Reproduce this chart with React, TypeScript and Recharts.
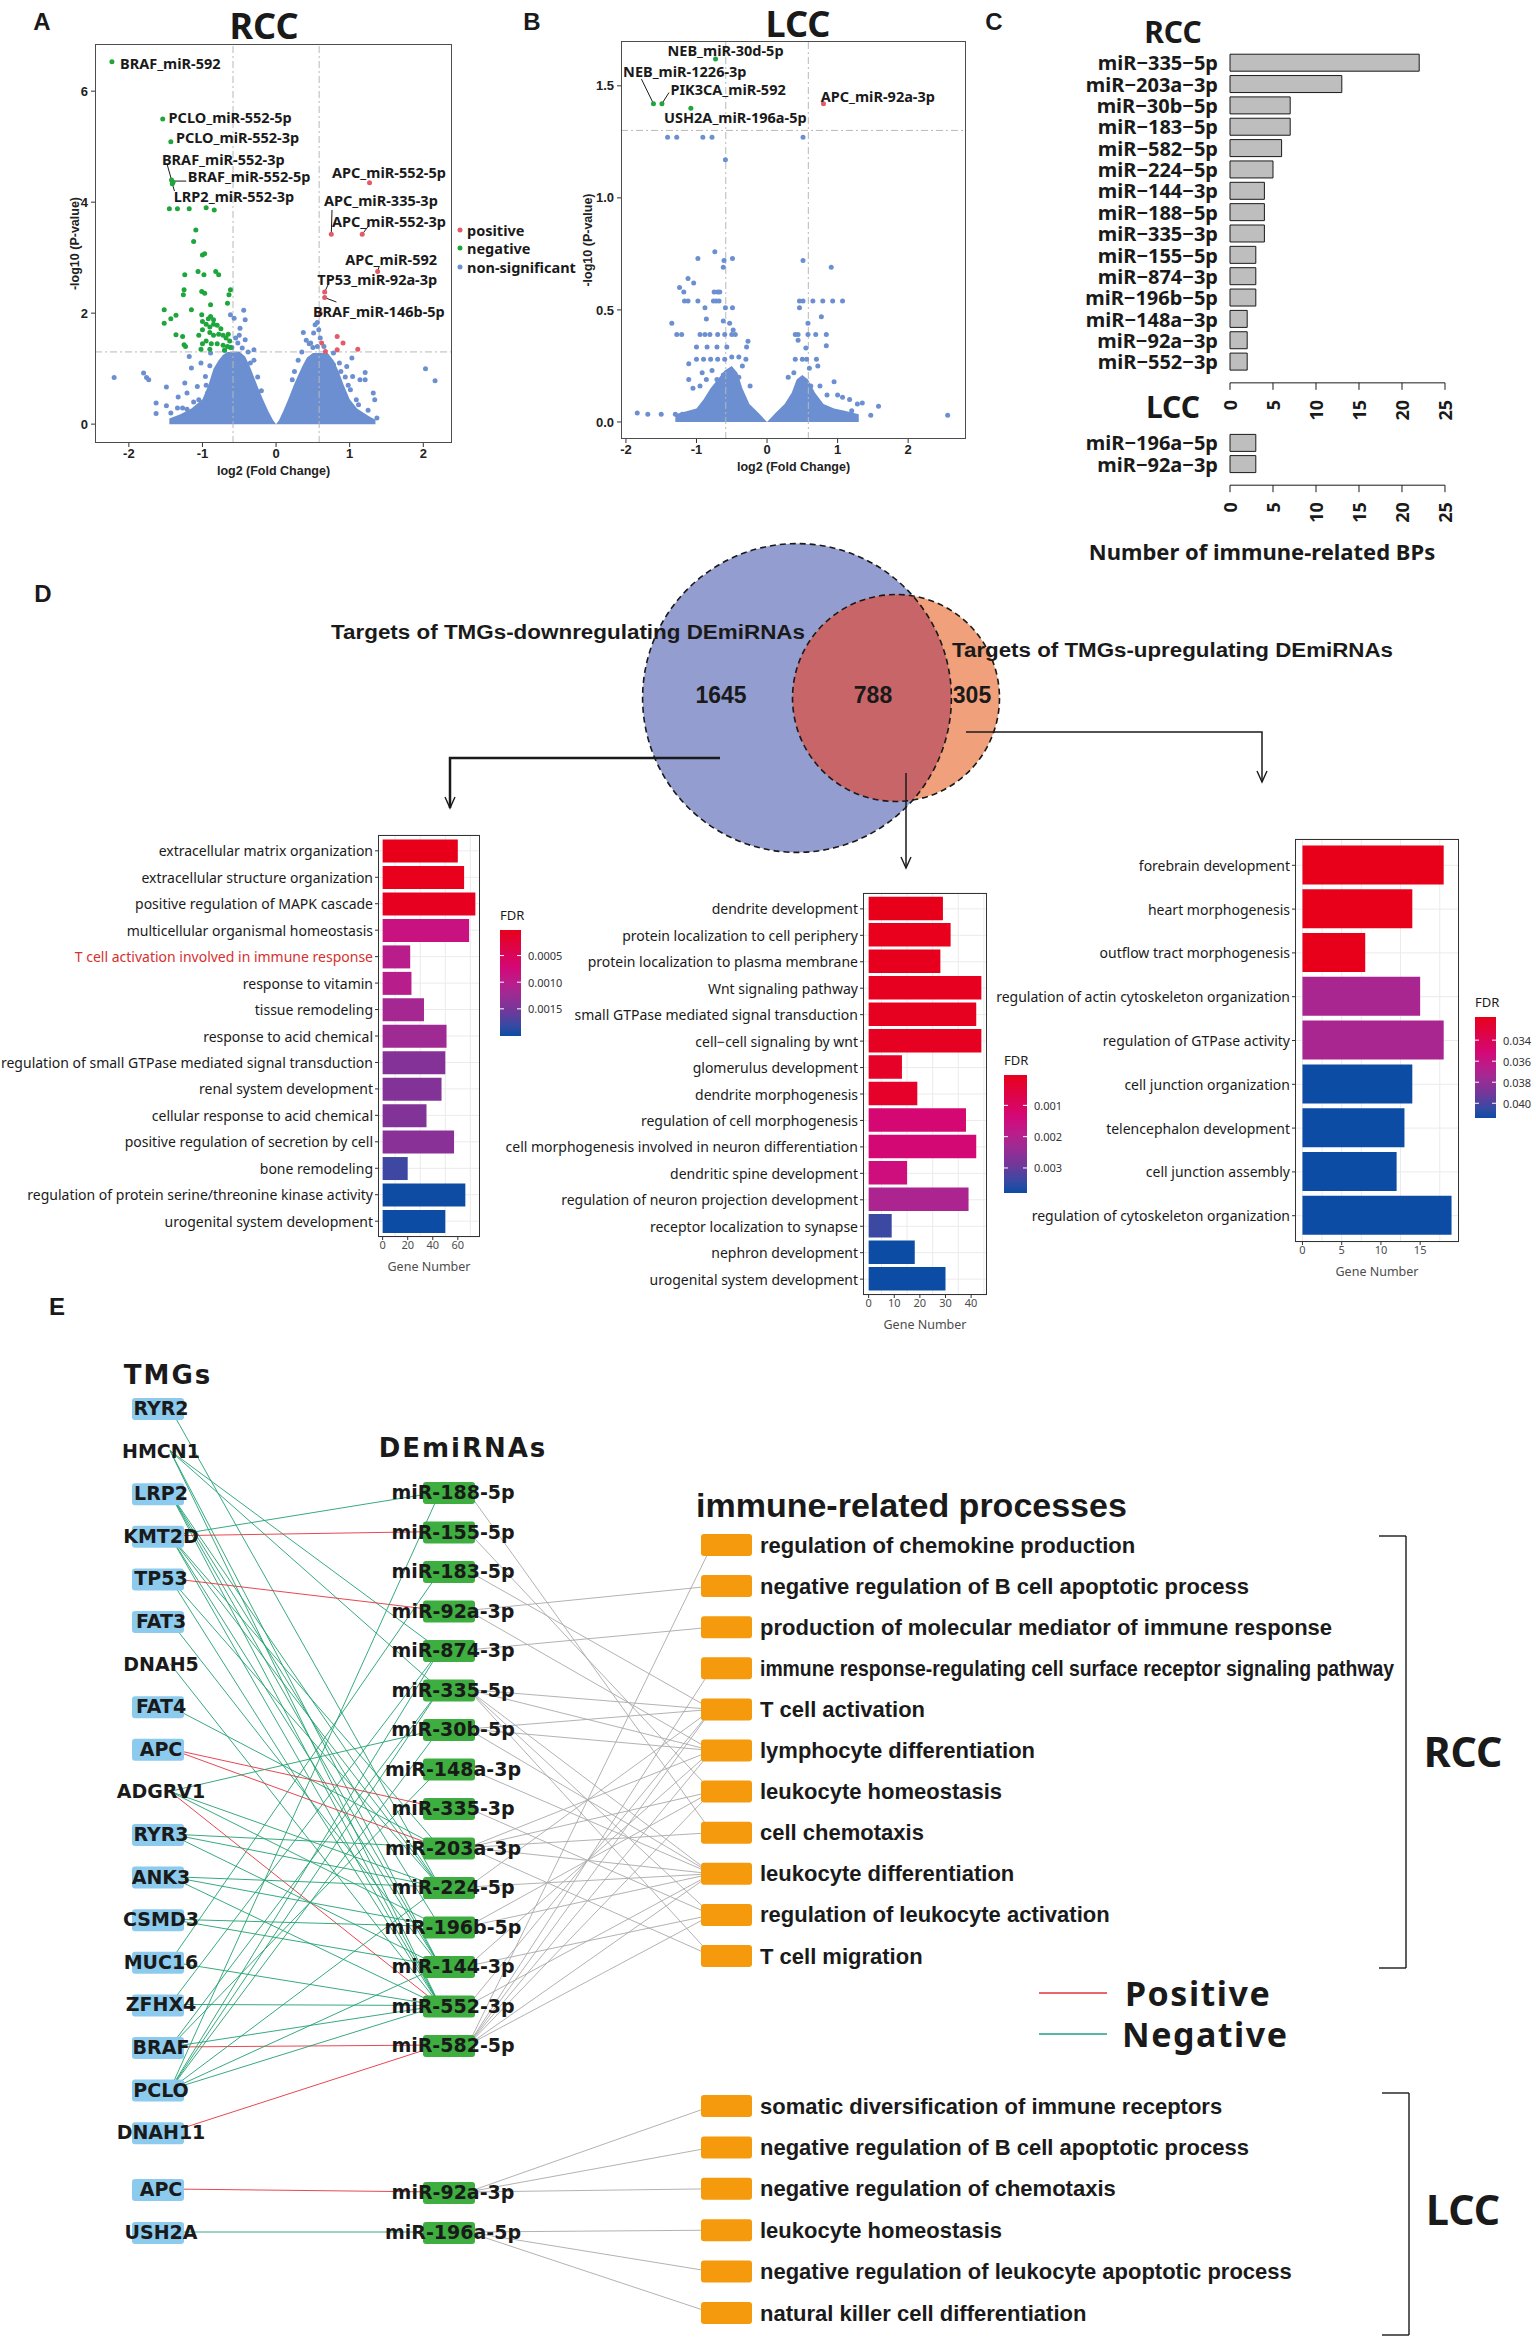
import React from 'react';
import {
  ComposedChart, ScatterChart, BarChart, Scatter, Area, Bar, Cell,
  XAxis, YAxis, CartesianGrid, ReferenceLine, Label,
} from 'recharts';

type XY = [number, number];

const SANS = "'Noto Sans', 'Open Sans', sans-serif";
const ARIAL = "'Liberation Sans', Arial, sans-serif";
const DEJAVU = "'DejaVu Sans', sans-serif";
const INK = '#1a1a1a';

const BLUE = '#6b8fd0';
const GREEN = '#1ea53c';
const RED = '#e45a68';

// ---- A: RCC volcano, [log2 FC, -log10 P] ----
const rccNonSig: XY[] = [
  [-2.2, 0.84], [-1.8, 0.92], [-1.76, 0.84], [-1.73, 0.8], [-1.49, 0.67], [-1.63, 0.38], [-1.63, 0.19],
  [-1.49, 0.33], [-1.43, 0.2], [-1.33, 0.49], [-1.34, 0.29], [-1.27, 0.29], [-1.21, 0.27], [-1.21, 0.56],
  [-1.18, 1.22], [-1.24, 0.74], [-1.15, 1.01], [-1.07, 0.68], [-1.05, 0.44], [-1.02, 1.1], [-0.96, 0.86],
  [-0.93, 0.56], [-0.89, 1.28], [-0.62, 1.97], [-0.57, 1.91], [-0.44, 2.05], [-0.42, 1.88], [-0.49, 1.73],
  [-0.42, 1.52], [-0.52, 1.46], [-0.46, 1.37], [-0.3, 1.34], [-0.55, 1.55], [-0.5, 1.6], [-0.35, 1.1],
  [-1.1, 0.15], [-0.98, 0.25], [-1.25, 0.12], [-0.9, 1.05], [-0.95, 0.7], [-1.12, 0.4], [-0.3, 1.15],
  [-0.25, 0.85], [-0.2, 0.6], [-0.38, 1.3], [-0.6, 1.38], [-0.7, 1.33],
  [0.37, 1.65], [0.41, 1.51], [0.47, 1.46], [0.53, 1.79], [0.56, 1.83], [0.58, 1.7], [0.51, 1.64], [0.56, 1.4],
  [0.3, 1.15], [0.45, 1.45], [0.65, 1.4], [0.6, 1.55], [0.71, 1.13], [0.78, 1.28], [0.78, 1.07], [0.96, 1.04],
  [1.03, 1.19], [0.83, 0.8], [0.88, 0.95], [0.98, 0.7], [0.92, 0.5], [1.01, 0.62], [1.04, 0.86], [1.14, 0.8],
  [1.21, 0.93], [1.21, 0.8], [1.09, 0.44], [1.12, 0.35], [1.25, 0.25], [1.32, 0.56], [1.34, 0.44], [1.08, 0.17],
  [1.19, 0.14], [1.37, 0.11], [2.03, 1.0], [2.16, 0.78], [0.22, 0.8], [0.25, 0.95], [0.35, 1.3], [0.5, 1.38],
  [0.86, 1.1], [0.94, 0.85], [1.02, 0.3],
];
const rccNegative: XY[] = [
  [-2.23, 6.53], [-1.54, 5.5], [-1.43, 5.09], [-1.42, 4.4], [-1.4, 4.36], [-1.41, 4.33],
  [-1.45, 3.88], [-1.34, 3.88], [-1.18, 3.88], [-0.95, 3.9], [-0.84, 3.86],
  [-1.09, 3.5], [-1.12, 3.29], [-1.0, 3.05], [-0.97, 3.07],
  [-1.24, 2.69], [-1.06, 2.75], [-0.98, 2.69], [-0.82, 2.75], [-0.78, 2.69],
  [-1.25, 2.42], [-1.26, 2.33], [-1.01, 2.39], [-0.97, 2.36], [-0.62, 2.42], [-0.64, 2.33], [-0.89, 2.15], [-0.66, 2.18],
  [-1.52, 2.06], [-1.36, 1.96], [-1.15, 2.06], [-1.01, 1.97], [-0.89, 1.94], [-1.52, 1.82], [-1.43, 1.9],
  [-1.0, 1.85], [-0.95, 1.8], [-0.9, 1.75], [-0.85, 1.8], [-0.8, 1.78], [-0.75, 1.72], [-0.9, 1.65], [-0.85, 1.6],
  [-0.78, 1.62], [-0.72, 1.6], [-0.68, 1.55], [-0.95, 1.5], [-0.88, 1.45], [-0.8, 1.45], [-0.72, 1.42], [-0.66, 1.4],
  [-1.0, 1.45], [-1.02, 1.35], [-0.9, 1.35], [-0.7, 1.33], [-0.62, 1.38], [-0.63, 1.5], [-0.65, 1.62], [-1.05, 1.6],
  [-1.0, 1.7], [-0.92, 1.9], [-0.85, 1.88], [-1.36, 1.61], [-1.27, 1.58], [-1.25, 1.43], [-1.23, 1.4],
];
const rccPositive: XY[] = [
  [1.27, 4.35], [0.75, 3.42], [1.17, 3.42], [1.38, 2.75], [0.66, 2.38], [0.66, 2.28], [0.6, 2.0],
  [0.83, 1.58], [0.91, 1.46], [0.62, 1.46], [0.83, 1.34], [1.11, 1.35], [0.67, 1.31],
];
// top edge of the tightly packed non-significant cloud
const rccCloud: XY[] = [
  [-1.45, 0.1], [-1.3, 0.18], [-1.15, 0.28], [-1.0, 0.45], [-0.92, 0.7], [-0.85, 1.0], [-0.78, 1.15], [-0.72, 1.25],
  [-0.66, 1.3], [-0.5, 1.31], [-0.42, 1.22], [-0.36, 1.05], [-0.3, 0.85], [-0.24, 0.64], [-0.17, 0.42], [-0.1, 0.22],
  [-0.04, 0.07], [0, 0], [0.04, 0.07], [0.1, 0.24], [0.17, 0.46], [0.24, 0.7], [0.3, 0.88], [0.36, 1.05],
  [0.42, 1.2], [0.5, 1.28], [0.7, 1.28], [0.78, 1.15], [0.85, 0.95], [0.92, 0.7], [1.0, 0.45],
  [1.1, 0.28], [1.25, 0.15], [1.35, 0.08],
];

// ---- B: LCC volcano ----
const lccNonSig: XY[] = [
  [-1.41, 1.27], [-1.28, 1.27], [-0.91, 1.27], [-0.78, 1.27], [0.51, 1.27], [-0.59, 1.17],
  [-0.74, 0.76], [-0.98, 0.73], [-0.61, 0.72], [-0.49, 0.73], [-0.62, 0.69], [0.51, 0.72], [0.91, 0.69],
  [-1.12, 0.64], [-1.04, 0.62], [-1.24, 0.6], [-1.18, 0.58], [-0.75, 0.58], [-0.7, 0.58], [-0.67, 0.58],
  [-1.17, 0.54], [-1.12, 0.54], [-0.98, 0.54], [-0.76, 0.54], [-0.72, 0.54], [-0.68, 0.54],
  [0.46, 0.54], [0.51, 0.54], [0.65, 0.54], [0.79, 0.54], [0.93, 0.54], [1.07, 0.54],
  [-0.88, 0.51], [-0.59, 0.51], [-0.49, 0.51], [0.46, 0.51],
  [-1.35, 0.44], [-0.86, 0.46], [-0.62, 0.45], [-0.53, 0.44], [0.58, 0.44], [0.77, 0.47],
  [-1.28, 0.39], [-1.21, 0.39], [-0.95, 0.39], [-0.88, 0.39], [-0.81, 0.39], [-0.7, 0.39], [-0.6, 0.39],
  [-0.5, 0.39], [-0.45, 0.39], [0.4, 0.39], [0.44, 0.39], [0.58, 0.39], [0.69, 0.39], [0.84, 0.39], [-0.48, 0.41],
  [-0.27, 0.36], [-1.0, 0.335], [-0.85, 0.335], [-0.71, 0.335], [-0.57, 0.335], [-0.29, 0.335], [0.44, 0.365],
  [0.55, 0.33], [0.84, 0.34],
  [-1.11, 0.26], [-1.0, 0.28], [-0.9, 0.28], [-0.8, 0.28], [-0.7, 0.28], [-0.6, 0.28], [-0.5, 0.29], [-0.4, 0.29],
  [-0.3, 0.28], [0.4, 0.28], [0.5, 0.28], [0.56, 0.28], [0.7, 0.28], [0.72, 0.25], [0.6, 0.24],
  [-1.05, 0.15], [-0.95, 0.16], [-1.11, 0.19], [-0.86, 0.19], [-0.71, 0.19], [-0.24, 0.16], [0.51, 0.19],
  [0.95, 0.18], [1.07, 0.11], [1.17, 0.1], [1.28, 0.08], [1.35, 0.085], [1.58, 0.07], [1.47, 0.03], [2.56, 0.03],
  [-1.84, 0.04], [-1.69, 0.035], [-1.5, 0.035], [-1.3, 0.035], [-1.2, 0.035], [-1.1, 0.035],
  [-0.92, 0.22], [-0.78, 0.23], [-0.62, 0.21], [-0.55, 0.18], [0.3, 0.2], [0.38, 0.22], [0.62, 0.16],
  [0.75, 0.16], [0.85, 0.12], [1.0, 0.12], [-0.4, 0.2], [-0.35, 0.25], [1.2, 0.05],
];
const lccNegative: XY[] = [[-0.73, 1.62], [-1.61, 1.42], [-1.49, 1.42], [-1.08, 1.4]];
const lccPositive: XY[] = [[0.8, 1.42]];
const lccCloud: XY[] = [
  [-1.3, 0.035], [-1.0, 0.06], [-0.9, 0.1], [-0.8, 0.15], [-0.7, 0.19], [-0.6, 0.23], [-0.5, 0.25], [-0.42, 0.22],
  [-0.35, 0.15], [-0.25, 0.08], [-0.12, 0.04], [0, 0], [0.12, 0.04], [0.25, 0.08], [0.35, 0.13], [0.42, 0.19],
  [0.5, 0.21], [0.58, 0.19], [0.68, 0.13], [0.8, 0.08], [0.95, 0.06], [1.1, 0.05], [1.3, 0.035],
];

// labelled pairs: point, where the text starts, optional leader end
type Note = { name: string; at: XY; text: XY; lead?: XY };
const rccNotes: Note[] = [
  { name: 'BRAF_miR-592', at: [-2.23, 6.53], text: [-2.12, 6.51] },
  { name: 'PCLO_miR-552-5p', at: [-1.54, 5.5], text: [-1.46, 5.53] },
  { name: 'PCLO_miR-552-3p', at: [-1.43, 5.09], text: [-1.36, 5.17] },
  { name: 'BRAF_miR-552-3p', at: [-1.42, 4.4], text: [-1.55, 4.77], lead: [-1.48, 4.68] },
  { name: 'BRAF_miR-552-5p', at: [-1.4, 4.38], text: [-1.2, 4.48], lead: [-1.22, 4.38] },
  { name: 'LRP2_miR-552-3p', at: [-1.41, 4.33], text: [-1.39, 4.11], lead: [-1.38, 4.2] },
  { name: 'APC_miR-552-5p', at: [1.27, 4.35], text: [0.76, 4.54] },
  { name: 'APC_miR-335-3p', at: [0.75, 3.42], text: [0.65, 4.03], lead: [0.76, 3.86] },
  { name: 'APC_miR-552-3p', at: [1.17, 3.42], text: [0.76, 3.66], lead: [1.25, 3.56] },
  { name: 'APC_miR-592', at: [1.38, 2.75], text: [0.94, 2.97], lead: [1.4, 2.84] },
  { name: 'TP53_miR-92a-3p', at: [0.66, 2.38], text: [0.56, 2.61], lead: [0.72, 2.55] },
  { name: 'BRAF_miR-146b-5p', at: [0.66, 2.28], text: [0.5, 2.04], lead: [0.82, 2.2] },
];
const lccNotes: Note[] = [
  { name: 'NEB_miR-30d-5p', at: [-0.73, 1.62], text: [-1.41, 1.66] },
  { name: 'NEB_miR-1226-3p', at: [-1.61, 1.42], text: [-2.04, 1.565], lead: [-1.78, 1.53] },
  { name: 'PIK3CA_miR-592', at: [-1.49, 1.42], text: [-1.37, 1.486], lead: [-1.39, 1.47] },
  { name: 'USH2A_miR-196a-5p', at: [-1.08, 1.4], text: [-1.46, 1.36] },
  { name: 'APC_miR-92a-3p', at: [0.8, 1.42], text: [0.76, 1.453] },
];

// ---- C: immune-related BPs per DEmiRNA ----
const rccMirNames = ['miR-335-5p', 'miR-203a-3p', 'miR-30b-5p', 'miR-183-5p', 'miR-582-5p', 'miR-224-5p', 'miR-144-3p',
  'miR-188-5p', 'miR-335-3p', 'miR-155-5p', 'miR-874-3p', 'miR-196b-5p', 'miR-148a-3p', 'miR-92a-3p', 'miR-552-3p'];
const rccMirBPs = [22, 13, 7, 7, 6, 5, 4, 4, 4, 3, 3, 3, 2, 2, 2];
const lccMirNames = ['miR-196a-5p', 'miR-92a-3p'];
const lccMirBPs = [3, 3];

// ---- D: Venn + GO enrichment ----
const vennCounts = [1645, 788, 305]; // down only, shared, up only

const goDownTerms = ['extracellular matrix organization', 'extracellular structure organization',
  'positive regulation of MAPK cascade', 'multicellular organismal homeostasis',
  'T cell activation involved in immune response', 'response to vitamin', 'tissue remodeling',
  'response to acid chemical', 'regulation of small GTPase mediated signal transduction', 'renal system development',
  'cellular response to acid chemical', 'positive regulation of secretion by cell', 'bone remodeling',
  'regulation of protein serine/threonine kinase activity', 'urogenital system development'];
const goDownGenes = [60, 65, 74, 69, 22, 23, 33, 51, 50, 47, 35, 57, 20, 66, 50];
const goDownFdr = [0.00002, 0.00003, 0.00006, 0.00085, 0.001, 0.00102, 0.00117, 0.00121, 0.00141, 0.00142,
  0.00143, 0.00138, 0.00178, 0.002, 0.00201];

const goBothTerms = ['dendrite development', 'protein localization to cell periphery',
  'protein localization to plasma membrane', 'Wnt signaling pathway', 'small GTPase mediated signal transduction',
  'cell\u2212cell signaling by wnt', 'glomerulus development', 'dendrite morphogenesis',
  'regulation of cell morphogenesis', 'cell morphogenesis involved in neuron differentiation',
  'dendritic spine development', 'regulation of neuron projection development', 'receptor localization to synapse',
  'nephron development', 'urogenital system development'];
const goBothGenes = [29, 32, 28, 44, 42, 44, 13, 19, 38, 42, 15, 39, 9, 18, 30];
const goBothFdr = [0.00003, 0.00005, 0.00008, 0.0001, 0.00012, 0.00015, 0.0002, 0.00025, 0.0013, 0.00132,
  0.0015, 0.0021, 0.0034, 0.0038, 0.0038];

const goUpTerms = ['forebrain development', 'heart morphogenesis', 'outflow tract morphogenesis',
  'regulation of actin cytoskeleton organization', 'regulation of GTPase activity', 'cell junction organization',
  'telencephalon development', 'cell junction assembly', 'regulation of cytoskeleton organization'];
const goUpGenes = [18, 14, 8, 15, 18, 14, 13, 12, 19];
const goUpFdr = [0.0318, 0.0318, 0.0318, 0.0372, 0.0372, 0.0414, 0.0414, 0.0414, 0.0414];

const goHighlight = ['T cell activation involved in immune response'];

// ---- E: TMG - DEmiRNA - immune process network ----
const tmgRcc = ['RYR2', 'HMCN1', 'LRP2', 'KMT2D', 'TP53', 'FAT3', 'DNAH5', 'FAT4', 'APC', 'ADGRV1', 'RYR3',
  'ANK3', 'CSMD3', 'MUC16', 'ZFHX4', 'BRAF', 'PCLO', 'DNAH11'];
const tmgLcc = ['APC', 'USH2A'];
const tmgUnboxed = ['HMCN1', 'DNAH5', 'ADGRV1'];
const mirRcc = ['miR-188-5p', 'miR-155-5p', 'miR-183-5p', 'miR-92a-3p', 'miR-874-3p', 'miR-335-5p', 'miR-30b-5p',
  'miR-148a-3p', 'miR-335-3p', 'miR-203a-3p', 'miR-224-5p', 'miR-196b-5p', 'miR-144-3p', 'miR-552-3p', 'miR-582-5p'];
const mirLcc = ['miR-92a-3p', 'miR-196a-5p'];
const procRcc = ['regulation of chemokine production', 'negative regulation of B cell apoptotic process',
  'production of molecular mediator of immune response',
  'immune response-regulating cell surface receptor signaling pathway', 'T cell activation',
  'lymphocyte differentiation', 'leukocyte homeostasis', 'cell chemotaxis', 'leukocyte differentiation',
  'regulation of leukocyte activation', 'T cell migration'];
const procLcc = ['somatic diversification of immune receptors', 'negative regulation of B cell apoptotic process',
  'negative regulation of chemotaxis', 'leukocyte homeostasis', 'negative regulation of leukocyte apoptotic process',
  'natural killer cell differentiation'];

const tmgMirRcc: [string, string, 'pos' | 'neg'][] = [
  ['RYR2', 'miR-224-5p', 'neg'], ['HMCN1', 'miR-874-3p', 'neg'], ['HMCN1', 'miR-335-5p', 'neg'],
  ['HMCN1', 'miR-552-3p', 'neg'], ['HMCN1', 'miR-144-3p', 'neg'], ['LRP2', 'miR-224-5p', 'neg'],
  ['LRP2', 'miR-196b-5p', 'neg'], ['LRP2', 'miR-144-3p', 'neg'], ['LRP2', 'miR-552-3p', 'neg'],
  ['KMT2D', 'miR-188-5p', 'neg'], ['KMT2D', 'miR-155-5p', 'pos'], ['KMT2D', 'miR-203a-3p', 'neg'],
  ['KMT2D', 'miR-224-5p', 'neg'], ['KMT2D', 'miR-144-3p', 'neg'], ['KMT2D', 'miR-552-3p', 'neg'],
  ['TP53', 'miR-92a-3p', 'pos'], ['TP53', 'miR-224-5p', 'neg'], ['TP53', 'miR-552-3p', 'neg'],
  ['FAT3', 'miR-144-3p', 'neg'], ['DNAH5', 'miR-552-3p', 'neg'], ['FAT4', 'miR-203a-3p', 'neg'],
  ['APC', 'miR-335-3p', 'pos'], ['APC', 'miR-203a-3p', 'pos'], ['ADGRV1', 'miR-30b-5p', 'neg'],
  ['ADGRV1', 'miR-224-5p', 'neg'], ['ADGRV1', 'miR-196b-5p', 'neg'], ['ADGRV1', 'miR-552-3p', 'pos'],
  ['RYR3', 'miR-203a-3p', 'neg'], ['RYR3', 'miR-224-5p', 'neg'], ['RYR3', 'miR-144-3p', 'neg'],
  ['ANK3', 'miR-224-5p', 'neg'], ['ANK3', 'miR-196b-5p', 'neg'], ['ANK3', 'miR-552-3p', 'neg'],
  ['CSMD3', 'miR-196b-5p', 'neg'], ['CSMD3', 'miR-144-3p', 'neg'], ['MUC16', 'miR-183-5p', 'neg'],
  ['MUC16', 'miR-552-3p', 'neg'], ['ZFHX4', 'miR-874-3p', 'neg'], ['ZFHX4', 'miR-552-3p', 'neg'],
  ['BRAF', 'miR-148a-3p', 'neg'], ['BRAF', 'miR-335-5p', 'neg'], ['BRAF', 'miR-552-3p', 'neg'],
  ['BRAF', 'miR-582-5p', 'pos'], ['PCLO', 'miR-188-5p', 'neg'], ['PCLO', 'miR-874-3p', 'neg'],
  ['PCLO', 'miR-335-5p', 'neg'], ['PCLO', 'miR-30b-5p', 'neg'], ['PCLO', 'miR-224-5p', 'neg'],
  ['PCLO', 'miR-144-3p', 'neg'], ['PCLO', 'miR-552-3p', 'neg'], ['DNAH11', 'miR-582-5p', 'pos'],
];
const tmgMirLcc: [string, string, 'pos' | 'neg'][] = [['APC', 'miR-92a-3p', 'pos'], ['USH2A', 'miR-196a-5p', 'neg']];
const mirProcRcc: [string, string][] = [
  ['miR-188-5p', 'cell chemotaxis'], ['miR-155-5p', 'leukocyte homeostasis'], ['miR-183-5p', 'T cell activation'],
  ['miR-92a-3p', 'negative regulation of B cell apoptotic process'], ['miR-92a-3p', 'lymphocyte differentiation'],
  ['miR-874-3p', 'production of molecular mediator of immune response'], ['miR-335-5p', 'T cell activation'],
  ['miR-335-5p', 'lymphocyte differentiation'], ['miR-335-5p', 'leukocyte differentiation'],
  ['miR-335-5p', 'regulation of leukocyte activation'], ['miR-335-5p', 'T cell migration'],
  ['miR-30b-5p', 'T cell activation'], ['miR-30b-5p', 'lymphocyte differentiation'],
  ['miR-30b-5p', 'leukocyte differentiation'], ['miR-148a-3p', 'leukocyte differentiation'],
  ['miR-335-3p', 'regulation of leukocyte activation'], ['miR-203a-3p', 'lymphocyte differentiation'],
  ['miR-203a-3p', 'leukocyte homeostasis'], ['miR-203a-3p', 'cell chemotaxis'],
  ['miR-203a-3p', 'leukocyte differentiation'], ['miR-203a-3p', 'T cell migration'],
  ['miR-224-5p', 'T cell activation'], ['miR-224-5p', 'leukocyte differentiation'],
  ['miR-196b-5p', 'leukocyte homeostasis'], ['miR-196b-5p', 'leukocyte differentiation'],
  ['miR-144-3p', 'lymphocyte differentiation'], ['miR-144-3p', 'regulation of leukocyte activation'],
  ['miR-552-3p', 'T cell activation'], ['miR-552-3p', 'leukocyte differentiation'],
  ['miR-582-5p', 'regulation of chemokine production'],
  ['miR-582-5p', 'immune response-regulating cell surface receptor signaling pathway'],
  ['miR-582-5p', 'T cell activation'], ['miR-582-5p', 'lymphocyte differentiation'],
  ['miR-582-5p', 'leukocyte homeostasis'], ['miR-582-5p', 'leukocyte differentiation'],
  ['miR-582-5p', 'regulation of leukocyte activation'],
];
const mirProcLcc: [string, string][] = [
  ['miR-92a-3p', 'somatic diversification of immune receptors'],
  ['miR-92a-3p', 'negative regulation of B cell apoptotic process'],
  ['miR-92a-3p', 'negative regulation of chemotaxis'],
  ['miR-196a-5p', 'leukocyte homeostasis'],
  ['miR-196a-5p', 'negative regulation of leukocyte apoptotic process'],
  ['miR-196a-5p', 'natural killer cell differentiation'],
];

// ---------- helpers ----------
const xy = (a: XY[]) => a.map(([x, y]) => ({ x, y }));
const dot = (fill: string) => (p: any) => <circle cx={p.cx} cy={p.cy} r={2.5} fill={fill} />;

const FDR_STOPS: [number, number[]][] = [
  [0, [232, 0, 27]], [0.35, [212, 8, 118]], [0.5, [184, 30, 140]], [0.6, [160, 42, 147]],
  [0.75, [118, 54, 153]], [0.9, [56, 74, 163]], [1, [12, 76, 164]],
];
function fdrColor(t: number) {
  const v = Math.max(0, Math.min(1, t));
  for (let i = 1; i < FDR_STOPS.length; i++) {
    const [t1, c1] = FDR_STOPS[i];
    if (v <= t1) {
      const [t0, c0] = FDR_STOPS[i - 1];
      const f = (v - t0) / (t1 - t0);
      return `rgb(${c0.map((c, k) => Math.round(c + (c1[k] - c) * f)).join(',')})`;
    }
  }
  return 'rgb(12,76,164)';
}

function Frame({ l, t, r, b, color = '#4d4d4d', w = 1.3 }: any) {
  return (
    <div style={{ position: 'absolute', left: l, top: t, width: r - l, height: b - t,
      border: `${w}px solid ${color}`, boxSizing: 'border-box', pointerEvents: 'none' }} />
  );
}

const axisTick = { fontSize: 13, fontWeight: 700, fill: '#222', fontFamily: ARIAL };

function Volcano({ left, width, height, margin, yWidth, xDomain, yDomain, yTicks, yDigits,
  nonSig, neg, pos, cloud, notes }: any) {
  const fcCut = Math.log2(1.5);
  const pCut = -Math.log10(0.05);
  const guide = { stroke: '#b8b8b8', strokeWidth: 1, strokeDasharray: '7 3 2 3' };
  const xH = 32;
  const plot = { l: left + margin.left + yWidth, t: margin.top, r: left + width - margin.right, b: height - margin.bottom - xH };
  const noteShape = (p: any) => (
    <text x={p.cx} y={p.cy} dominantBaseline="central" fontSize={14.5} fontWeight={700} fontFamily={SANS} fill={INK}>
      {p.payload.name}
    </text>
  );
  return (
    <>
      <div style={{ position: 'absolute', left, top: 0 }}>
        <ComposedChart width={width} height={height} margin={margin}>
          <XAxis type="number" dataKey="x" domain={xDomain} ticks={[-2, -1, 0, 1, 2]} allowDataOverflow
            axisLine={false} tickSize={4} tickMargin={2} tickLine={{ stroke: '#333' }} tick={axisTick} height={xH}>
            <Label value="log2 (Fold Change)" position="insideBottom" offset={0}
              fontSize={12.5} fontWeight={700} fontFamily={ARIAL} fill="#222" />
          </XAxis>
          <YAxis type="number" dataKey="y" domain={yDomain} ticks={yTicks} allowDataOverflow
            tickFormatter={(v: number) => v.toFixed(yDigits)}
            axisLine={false} tickSize={4} tickMargin={3} tickLine={{ stroke: '#333' }} tick={axisTick} width={yWidth}>
            <Label value="-log10 (P-value)" angle={-90} position="center"
              fontSize={12.5} fontWeight={700} fontFamily={ARIAL} fill="#222" />
          </YAxis>
          <ReferenceLine x={-fcCut} {...guide} />
          <ReferenceLine x={fcCut} {...guide} />
          <ReferenceLine y={pCut} {...guide} />
          <Area data={xy(cloud)} dataKey="y" type="linear" stroke="none" fill={BLUE} fillOpacity={1}
            baseValue={0} isAnimationActive={false} />
          <Scatter data={xy(nonSig)} shape={dot(BLUE)} isAnimationActive={false} />
          <Scatter data={xy(neg)} shape={dot(GREEN)} isAnimationActive={false} />
          <Scatter data={xy(pos)} shape={dot(RED)} isAnimationActive={false} />
          {notes.filter((n: Note) => n.lead).map((n: Note, i: number) => (
            <ReferenceLine key={i} segment={[{ x: n.at[0], y: n.at[1] }, { x: n.lead![0], y: n.lead![1] }]}
              stroke={INK} strokeWidth={1} />
          ))}
          <Scatter data={notes.map((n: Note) => ({ x: n.text[0], y: n.text[1], name: n.name }))}
            shape={noteShape} isAnimationActive={false} />
        </ComposedChart>
      </div>
      <Frame {...plot} />
    </>
  );
}

function MirBars({ top, names, values, marginTop, band }: any) {
  const data = names.map((name: string, i: number) => ({ name, value: values[i] }));
  const gap = 10.4, axisH = 44;
  const height = marginTop + names.length * band + gap + axisH;
  const rotTick = (p: any) => (
    <text transform={`translate(${p.x},${p.y}) rotate(-90)`} textAnchor="end" dominantBaseline="central"
      fontSize={18} fontWeight={700} fontFamily={SANS} fill={INK}>{p.payload.value}</text>
  );
  const mirTick = (p: any) => (
    <text x={p.x} y={p.y} textAnchor="end" dominantBaseline="central" fontSize={20} fontWeight={700}
      fontFamily={SANS} fill={INK}>{String(p.payload.value).replace(/-/g, '\u2212')}</text>
  );
  return (
    <div style={{ position: 'absolute', left: 1040, top }}>
      <BarChart layout="vertical" width={420} height={height} data={data}
        margin={{ top: marginTop, right: 15, bottom: 0, left: 0 }} barSize={17}>
        <XAxis type="number" domain={[0, 25]} ticks={[0, 5, 10, 15, 20, 25]} height={axisH} stroke={INK}
          tickSize={7} tickMargin={10} tick={rotTick} />
        <YAxis type="category" dataKey="name" width={190} axisLine={false} tickLine={false} tickSize={0}
          tickMargin={12} interval={0} padding={{ top: 0, bottom: gap }} tick={mirTick} />
        <Bar dataKey="value" fill="#bebebe" stroke={INK} strokeWidth={1} isAnimationActive={false} />
      </BarChart>
    </div>
  );
}

function GoPanel({ boxLeft, plot, terms, genes, fdr, domain, majors, grid, barSize, pad, highlight = [] }: any) {
  const lo = Math.min(...fdr), hi = Math.max(...fdr);
  const data = terms.map((term: string, i: number) => ({ term, genes: genes[i], fdr: fdr[i] }));
  const top = plot.t - 10;
  const axisH = 42;
  const termTick = (p: any) => (
    <text x={p.x} y={p.y} textAnchor="end" dominantBaseline="central" fontSize={14} fontFamily={SANS}
      fill={highlight.includes(p.payload.value) ? '#d7302f' : INK}>{p.payload.value}</text>
  );
  return (
    <>
      <div style={{ position: 'absolute', left: boxLeft, top }}>
        <BarChart layout="vertical" width={plot.r - boxLeft + 10} height={plot.b - top + axisH} data={data}
          margin={{ top: 10, right: 10, bottom: 0, left: 0 }} barSize={barSize}>
          <CartesianGrid stroke="#ebebeb" verticalValues={grid} />
          <XAxis type="number" domain={domain} ticks={majors} allowDataOverflow axisLine={false} tickSize={3}
            tickMargin={1} tickLine={{ stroke: '#333' }} tick={{ fontSize: 11, fill: '#4d4d4d', fontFamily: SANS }}
            height={axisH}>
            <Label value="Gene Number" position="insideBottom" offset={8} fontSize={12.5} fill="#4d4d4d"
              fontFamily={SANS} />
          </XAxis>
          <YAxis type="category" dataKey="term" width={plot.l - boxLeft} axisLine={false} tickSize={3}
            tickMargin={2} tickLine={{ stroke: '#333' }} interval={0} padding={{ top: pad, bottom: pad }}
            tick={termTick} />
          <Bar dataKey="genes" isAnimationActive={false}>
            {data.map((d: any, i: number) => <Cell key={i} fill={fdrColor((d.fdr - lo) / (hi - lo))} />)}
          </Bar>
        </BarChart>
      </div>
      <Frame l={plot.l} t={plot.t} r={plot.r} b={plot.b} color="#333" w={1} />
    </>
  );
}

const VENN = { left: 600, top: 520, w: 460, h: 360, downCx: 197, cy: 178, gap: 99, k: 3.13 };

function Venn() {
  const [downOnly, shared, upOnly] = vennCounts;
  const R = VENN.k * Math.sqrt(downOnly + shared);
  const r = VENN.k * Math.sqrt(shared + upOnly);
  const d = VENN.gap;
  const down = [{ x: VENN.downCx, y: VENN.cy }];
  const up = [{ x: VENN.downCx + d, y: VENN.cy }];
  const outline = { fill: 'none', stroke: INK, strokeWidth: 1.6, strokeDasharray: '6 4' };
  const lens = (p: any) => {
    const bx = p.cx - d;
    const xi = (d * d + R * R - r * r) / (2 * d);
    const yi = Math.sqrt(R * R - xi * xi);
    const p1 = `${bx + xi},${p.cy - yi}`;
    const p2 = `${bx + xi},${p.cy + yi}`;
    return <path d={`M${p1} A${r},${r} 0 1 0 ${p2} A${R},${R} 0 0 0 ${p1} Z`} fill="#c86568" />;
  };
  return (
    <div style={{ position: 'absolute', left: VENN.left, top: VENN.top }}>
      <ScatterChart width={VENN.w} height={VENN.h} margin={{ top: 0, right: 0, bottom: 0, left: 0 }}>
        <XAxis type="number" dataKey="x" domain={[0, VENN.w]} hide />
        <YAxis type="number" dataKey="y" domain={[0, VENN.h]} reversed hide />
        <Scatter data={down} shape={(p: any) => <circle cx={p.cx} cy={p.cy} r={R} fill="#939dcf" />} isAnimationActive={false} />
        <Scatter data={up} shape={(p: any) => <circle cx={p.cx} cy={p.cy} r={r} fill="#f0a07a" />} isAnimationActive={false} />
        <Scatter data={up} shape={lens} isAnimationActive={false} />
        <Scatter data={down} shape={(p: any) => <circle cx={p.cx} cy={p.cy} r={R} {...outline} />} isAnimationActive={false} />
        <Scatter data={up} shape={(p: any) => <circle cx={p.cx} cy={p.cy} r={r} {...outline} />} isAnimationActive={false} />
      </ScatterChart>
    </div>
  );
}

const NET = {
  top: 1340, h: 997,
  tmgBox: 158, tmgText: 161, tmgEdge: 170,
  mirBox: 449, mirText: 453, mirIn: 440, mirOut: 468,
  procBox: 726.5, procText: 760, procIn: 712,
  tmgRcc0: 1408, tmgStep: 42.6, tmgLcc0: 2189, tmgLccStep: 43,
  mirRcc0: 1492, mirStep: 39.5, mirLcc0: 2192, mirLccStep: 40,
  procRcc0: 1545, procStep: 41.1, procLcc0: 2106, procLccStep: 41.4,
  procMaxW: 634,
};
const EDGE_POS = '#e5323f';
const EDGE_NEG = '#20a070';
const EDGE_GREY = '#a9a9a9';

function Network() {
  const N = NET;
  const nodes = (names: string[], group: string, x: number, y0: number, step: number) =>
    names.map((name, i) => ({ name, group, x, y: y0 + i * step }));
  const tmgNodes = [...nodes(tmgRcc, 'rcc', N.tmgBox, N.tmgRcc0, N.tmgStep), ...nodes(tmgLcc, 'lcc', N.tmgBox, N.tmgLcc0, N.tmgLccStep)];
  const mirNodes = [...nodes(mirRcc, 'rcc', N.mirBox, N.mirRcc0, N.mirStep), ...nodes(mirLcc, 'lcc', N.mirBox, N.mirLcc0, N.mirLccStep)];
  const procNodes = [...nodes(procRcc, 'rcc', N.procBox, N.procRcc0, N.procStep), ...nodes(procLcc, 'lcc', N.procBox, N.procLcc0, N.procLccStep)];
  const find = (list: any[], group: string, name: string) => list.find((n) => n.group === group && n.name === name);

  const segs: any[] = [];
  const addTm = (edges: [string, string, string][], group: string) => edges.forEach(([g, m, s]) => {
    const a = find(tmgNodes, group, g), b = find(mirNodes, group, m);
    if (a && b) segs.push({ a: { x: N.tmgEdge, y: a.y }, b: { x: N.mirIn, y: b.y }, color: s === 'pos' ? EDGE_POS : EDGE_NEG });
  });
  const addMp = (edges: [string, string][], group: string) => edges.forEach(([m, pr]) => {
    const a = find(mirNodes, group, m), b = find(procNodes, group, pr);
    if (a && b) segs.push({ a: { x: N.mirOut, y: a.y }, b: { x: N.procIn, y: b.y }, color: EDGE_GREY });
  });
  addTm(tmgMirRcc, 'rcc'); addTm(tmgMirLcc, 'lcc');
  addMp(mirProcRcc, 'rcc'); addMp(mirProcLcc, 'lcc');

  const tmgShape = (p: any) => (
    <g>
      {!tmgUnboxed.includes(p.payload.name) && (
        <rect x={p.cx - 26} y={p.cy - 10} width={52} height={22} rx={3} fill="#8ccbee" />
      )}
      <text x={p.cx + (N.tmgText - N.tmgBox)} y={p.cy} textAnchor="middle" dominantBaseline="central"
        fontFamily={DEJAVU} fontWeight={700} fontSize={19} fill={INK}>{p.payload.name}</text>
    </g>
  );
  const mirShape = (p: any) => (
    <g>
      <rect x={p.cx - 26} y={p.cy - 10} width={52} height={22} rx={3} fill="#3dae3f" />
      <text x={p.cx + (N.mirText - N.mirBox)} y={p.cy} textAnchor="middle" dominantBaseline="central"
        fontFamily={DEJAVU} fontWeight={700} fontSize={19} fill={INK}>{p.payload.name}</text>
    </g>
  );
  const procShape = (p: any) => {
    const long = p.payload.name.length > 60;
    return (
      <g>
        <rect x={p.cx - 25.5} y={p.cy - 11} width={51} height={22} rx={3} fill="#f49a0c" />
        <text x={p.cx + (N.procText - N.procBox)} y={p.cy} dominantBaseline="central" fontFamily={ARIAL}
          fontWeight={700} fontSize={22} fill={INK} textLength={long ? N.procMaxW : undefined}
          lengthAdjust={long ? 'spacingAndGlyphs' : undefined}>{p.payload.name}</text>
      </g>
    );
  };
  const line = (x1: number, y1: number, x2: number, y2: number, stroke: string, w = 1.3, key?: any) => (
    <ReferenceLine key={key} segment={[{ x: x1, y: y1 }, { x: x2, y: y2 }]} stroke={stroke} strokeWidth={w} />
  );
  return (
    <div style={{ position: 'absolute', left: 0, top: N.top }}>
      <ScatterChart width={1536} height={N.h} margin={{ top: 0, right: 0, bottom: 0, left: 0 }}>
        <XAxis type="number" dataKey="x" domain={[0, 1536]} hide />
        <YAxis type="number" dataKey="y" domain={[N.top, N.top + N.h]} reversed hide />
        {segs.map((s, i) => line(s.a.x, s.a.y, s.b.x, s.b.y, s.color, 0.9, i))}
        {line(1379, 1536, 1406, 1536, INK, 1.4, 'b1')}
        {line(1406, 1536, 1406, 1968, INK, 1.4, 'b2')}
        {line(1406, 1968, 1379, 1968, INK, 1.4, 'b3')}
        {line(1382, 2093, 1409, 2093, INK, 1.4, 'b4')}
        {line(1409, 2093, 1409, 2335, INK, 1.4, 'b5')}
        {line(1409, 2335, 1382, 2335, INK, 1.4, 'b6')}
        {line(1039, 1993, 1107, 1993, EDGE_POS, 1.4, 'l1')}
        {line(1039, 2034, 1107, 2034, '#1f9e89', 1.4, 'l2')}
        <Scatter data={tmgNodes} shape={tmgShape} isAnimationActive={false} />
        <Scatter data={mirNodes} shape={mirShape} isAnimationActive={false} />
        <Scatter data={procNodes} shape={procShape} isAnimationActive={false} />
      </ScatterChart>
    </div>
  );
}

function Txt({ x, y, size, weight = 700, family = SANS, anchor = 'start', fill = INK, ls, len, children }: any) {
  return (
    <text x={x} y={y} fontSize={size} fontWeight={weight} fontFamily={family} textAnchor={anchor}
      dominantBaseline="central" fill={fill} letterSpacing={ls} textLength={len}
      lengthAdjust={len ? 'spacingAndGlyphs' : undefined}>{children}</text>
  );
}

function Arrow({ pts, w }: { pts: number[][]; w: number }) {
  const [ex, ey] = pts[pts.length - 1];
  return (
    <g>
      <polyline points={pts.map((p) => p.join(',')).join(' ')} fill="none" stroke={INK} strokeWidth={w} />
      <polyline points={`${ex - 5},${ey - 11} ${ex},${ey} ${ex + 5},${ey - 11}`} fill="none" stroke={INK} strokeWidth={1.4} />
    </g>
  );
}

function FdrKey({ x, y, w, h, fdr, ticks, digits }: any) {
  const lo = Math.min(...fdr), hi = Math.max(...fdr);
  return (
    <g>
      <Txt x={x} y={y - 15} size={13} weight={400}>FDR</Txt>
      <rect x={x} y={y} width={w} height={h} fill="url(#fdrGrad)" />
      {ticks.map((v: number) => {
        const ty = y + ((v - lo) / (hi - lo)) * h;
        return (
          <g key={v}>
            <line x1={x} x2={x + 4} y1={ty} y2={ty} stroke="#fff" />
            <line x1={x + w - 4} x2={x + w} y1={ty} y2={ty} stroke="#fff" />
            <Txt x={x + w + 7} y={ty} size={11} weight={400} fill="#333">{v.toFixed(digits)}</Txt>
          </g>
        );
      })}
    </g>
  );
}

function Overlay() {
  return (
    <svg width={1536} height={2337} style={{ position: 'absolute', left: 0, top: 0, pointerEvents: 'none' }}>
      <defs>
        <linearGradient id="fdrGrad" x1="0" y1="0" x2="0" y2="1">
          {FDR_STOPS.map(([t, c]) => <stop key={t} offset={`${t * 100}%`} stopColor={`rgb(${c.join(',')})`} />)}
        </linearGradient>
      </defs>
      {/* panel letters */}
      <Txt x={42} y={21} size={24} family={ARIAL} anchor="middle">A</Txt>
      <Txt x={532} y={21} size={24} family={ARIAL} anchor="middle">B</Txt>
      <Txt x={994} y={21} size={24} family={ARIAL} anchor="middle">C</Txt>
      <Txt x={43} y={593} size={24} family={ARIAL} anchor="middle">D</Txt>
      <Txt x={57} y={1306} size={24} family={ARIAL} anchor="middle">E</Txt>
      {/* A / B titles and legend */}
      <Txt x={264} y={25} size={36} anchor="middle">RCC</Txt>
      <Txt x={798} y={23} size={36} anchor="middle">LCC</Txt>
      <circle cx={460} cy={230} r={2.5} fill={RED} />
      <circle cx={460} cy={248} r={2.5} fill={GREEN} />
      <circle cx={460} cy={267} r={2.5} fill={BLUE} />
      <Txt x={467} y={230} size={14.5}>positive</Txt>
      <Txt x={467} y={248} size={14.5}>negative</Txt>
      <Txt x={467} y={267} size={14.5}>non-significant</Txt>
      {/* C titles */}
      <Txt x={1173} y={31} size={30} anchor="middle">RCC</Txt>
      <Txt x={1173} y={406} size={30} anchor="middle">LCC</Txt>
      <Txt x={1262} y={551} size={22} anchor="middle">Number of immune-related BPs</Txt>
      {/* Venn labels */}
      <Txt x={331} y={632} size={20} family={ARIAL} len={474}>Targets of TMGs-downregulating DEmiRNAs</Txt>
      <Txt x={952} y={650} size={20} family={ARIAL} len={441}>Targets of TMGs-upregulating DEmiRNAs</Txt>
      <Txt x={721} y={695} size={23} family={ARIAL} anchor="middle">{vennCounts[0]}</Txt>
      <Txt x={873} y={695} size={23} family={ARIAL} anchor="middle">{vennCounts[1]}</Txt>
      <Txt x={972} y={695} size={23} family={ARIAL} anchor="middle">{vennCounts[2]}</Txt>
      <Arrow pts={[[720, 758], [450, 758], [450, 808]]} w={2.5} />
      <Arrow pts={[[906, 773], [906, 868]]} w={1.5} />
      <Arrow pts={[[966, 732], [1262, 732], [1262, 782]]} w={1.5} />
      {/* FDR keys */}
      <FdrKey x={500} y={930} w={21} h={106} fdr={goDownFdr} ticks={[0.0005, 0.001, 0.0015]} digits={4} />
      <FdrKey x={1004} y={1075} w={23} h={118} fdr={goBothFdr} ticks={[0.001, 0.002, 0.003]} digits={3} />
      <FdrKey x={1475} y={1017} w={21} h={101} fdr={goUpFdr} ticks={[0.034, 0.036, 0.038, 0.04]} digits={3} />
      {/* E titles */}
      <Txt x={168} y={1375} size={26} family={DEJAVU} anchor="middle" ls={2}>TMGs</Txt>
      <Txt x={463} y={1448} size={26} family={DEJAVU} anchor="middle" ls={2}>DEmiRNAs</Txt>
      <Txt x={696} y={1505} size={34} family={ARIAL}>immune-related processes</Txt>
      <Txt x={1463} y={1751} size={41} anchor="middle">RCC</Txt>
      <Txt x={1463} y={2209} size={41} anchor="middle">LCC</Txt>
      <Txt x={1125} y={1993} size={34} ls={1.5}>Positive</Txt>
      <Txt x={1122} y={2034} size={34} ls={1.5}>Negative</Txt>
    </svg>
  );
}

export default function App() {
  return (
    <div style={{ position: 'absolute', left: 0, top: 0, width: 1536, height: 2337, background: '#fff',
      overflow: 'hidden', fontFamily: SANS }}>
      <Volcano left={0} width={470} height={490} margin={{ top: 44, right: 18, bottom: 15, left: 55 }} yWidth={40}
        xDomain={[-2.46, 2.39]} yDomain={[-0.34, 6.85]} yTicks={[0, 2, 4, 6]} yDigits={0}
        nonSig={rccNonSig} neg={rccNegative} pos={rccPositive} cloud={rccCloud} notes={rccNotes} />
      <Volcano left={540} width={440} height={490} margin={{ top: 41, right: 14, bottom: 19, left: 15 }} yWidth={66}
        xDomain={[-2.07, 2.82]} yDomain={[-0.076, 1.7]} yTicks={[0, 0.5, 1, 1.5]} yDigits={1}
        nonSig={lccNonSig} neg={lccNegative} pos={lccPositive} cloud={lccCloud} notes={lccNotes} />
      <MirBars top={0} names={rccMirNames} values={rccMirBPs} marginTop={52.2} band={21.35} />
      <MirBars top={420} names={lccMirNames} values={lccMirBPs} marginTop={12.4} band={21.2} />
      <Venn />
      <GoPanel boxLeft={0} plot={{ l: 378, t: 835, r: 480, b: 1237 }} terms={goDownTerms} genes={goDownGenes}
        fdr={goDownFdr} domain={[-3.7, 77.7]} majors={[0, 20, 40, 60]} grid={[0, 10, 20, 30, 40, 50, 60, 70]}
        barSize={23} pad={2.6} highlight={goHighlight} />
      <GoPanel boxLeft={480} plot={{ l: 863, t: 893, r: 987, b: 1295 }} terms={goBothTerms} genes={goBothGenes}
        fdr={goBothFdr} domain={[-2.2, 46.2]} majors={[0, 10, 20, 30, 40]} grid={[0, 5, 10, 15, 20, 25, 30, 35, 40, 45]}
        barSize={23.5} pad={2.65} />
      <GoPanel boxLeft={980} plot={{ l: 1295, t: 839, r: 1459, b: 1242 }} terms={goUpTerms} genes={goUpGenes}
        fdr={goUpFdr} domain={[-0.95, 19.95]} majors={[0, 5, 10, 15]} grid={[0, 2.5, 5, 7.5, 10, 12.5, 15, 17.5]}
        barSize={39} pad={4.4} />
      <Network />
      <Overlay />
    </div>
  );
}
